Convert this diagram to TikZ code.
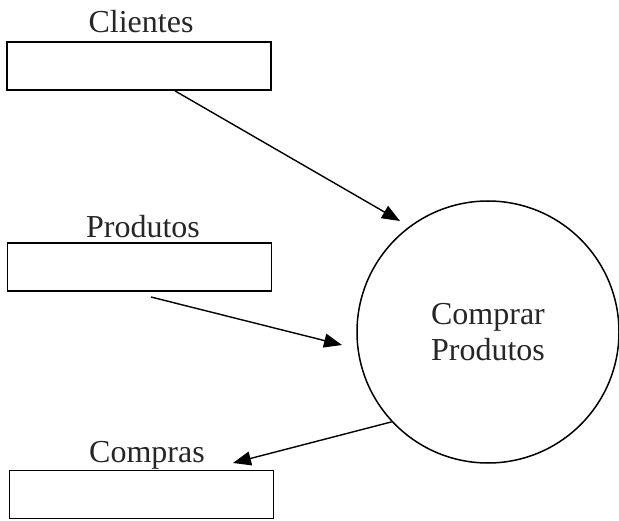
\documentclass[tikz,border=0pt]{standalone}
\usepackage{fontspec}
\setmainfont{Liberation Serif}
\usetikzlibrary{arrows.meta}
\begin{document}
\begin{tikzpicture}[x=1pt,y=-1pt,
  store/.style={draw=black,line width=1.8pt,minimum width=264pt,minimum height=48pt,inner sep=0pt},
  lbl/.style={anchor=base,inner sep=0pt,font=\fontsize{32}{36}\selectfont,text=black!85},
  proc/.style={draw=black,circle,line width=1.5pt,minimum size=262pt,inner sep=0pt,align=center,font=\fontsize{32}{36}\selectfont,text=black!85},
  flow/.style={line width=1.4pt,-{Triangle[length=18pt,width=14pt]}}]
\useasboundingbox (0,0) rectangle (619,521);
\node[store] (clientes) at (139,66) {};
\node[lbl] (lclientes) at (141,33) {Clientes};
\node[store] (produtos) at (139.5,267) {};
\node[lbl] (lprodutos) at (143,238) {Produtos};
\node[store] (compras) at (141.5,494.5) {};
\node[lbl] (lcompras) at (147,463) {Compras};
\node[proc] (comprar) at (488,332) {Comprar\\Produtos};
\coordinate (c1) at (400,221);
\coordinate (p0) at (151,297);
\coordinate (p1) at (342,345);
\coordinate (k1) at (233,463);
\draw[flow] ([xshift=36pt]clientes.south) -- (c1);
\draw[flow] (p0) -- (p1);
\draw[flow] (comprar.223) -- (k1);
\end{tikzpicture}
\end{document}
